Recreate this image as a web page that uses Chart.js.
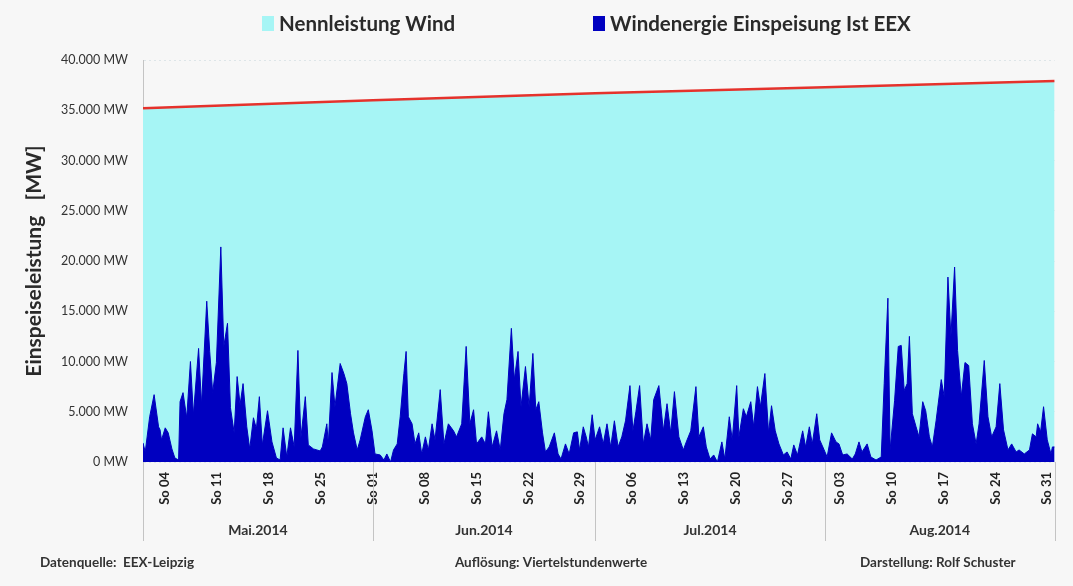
<!DOCTYPE html>
<html lang="de">
<head>
<meta charset="utf-8">
<title>Windenergie Einspeisung Mai - Aug 2014</title>
<script src="https://cdn.jsdelivr.net/npm/chart.js@4.4.1/dist/chart.umd.min.js"></script>
<style>
  html, body { margin: 0; padding: 0; background: #f7f7f7; }
  #wrap { position: relative; width: 1073px; height: 586px; }
</style>
</head>
<body>
<div id="wrap"><canvas id="wind-chart"></canvas></div>
<script>
// Days counted from 01.05.2014 00:00
const monthStarts = [0, 31, 61, 92, 123];
const monthNames = ['Mai.2014', 'Jun.2014', 'Jul.2014', 'Aug.2014'];

// Sundays (tick positions) and their labels
const sundayDays = [3, 10, 17, 24, 31, 38, 45, 52, 59, 66, 73, 80, 87, 94, 101, 108, 115, 122];
const sundayLabels = ['So 04', 'So 11', 'So 18', 'So 25', 'So 01', 'So 08', 'So 15', 'So 22', 'So 29',
    'So 06', 'So 13', 'So 20', 'So 27', 'So 03', 'So 10', 'So 17', 'So 24', 'So 31'];

// Installed wind capacity (Nennleistung) in MW
const capDays = [0, 31, 61, 92, 123];
const capMW = [35200, 36000, 36700, 37300, 37900];

// Wind feed-in (EEX)
const windDays = [
    0.0, 0.3, 0.9, 1.5, 2.1, 2.3, 2.5, 3.0, 3.4, 3.9, 4.3, 4.8, 5.0, 5.4, 5.9, 6.4, 6.8, 7.5, 7.9, 8.6,
    9.0, 9.4, 9.9, 10.5, 10.9, 11.4, 11.8, 12.3, 12.7, 13.1, 13.5, 14.0, 14.4, 14.9, 15.3, 15.7, 16.1, 16.8, 17.4, 18.0,
    18.5, 18.9, 19.4, 19.9, 20.4, 20.9, 21.3, 21.9, 22.3, 23.0, 23.9, 24.2, 24.8, 25.0, 25.5, 25.9, 26.6, 27.1, 27.5, 28.0,
    28.4, 28.9, 29.3, 30.0, 30.4, 30.9, 31.3, 32.0, 32.5, 32.9, 33.4, 33.8, 34.3, 34.7, 35.2, 35.5, 35.8, 36.3, 36.7, 37.2,
    37.6, 38.1, 38.5, 39.0, 39.4, 40.1, 40.6, 41.2, 41.9, 42.3, 43.0, 43.6, 44.1, 44.6, 45.0, 45.7, 46.2, 46.6, 47.1, 47.7,
    48.2, 48.7, 49.1, 49.7, 50.1, 50.6, 51.0, 51.6, 52.1, 52.6, 53.0, 53.4, 53.9, 54.3, 54.8, 55.5, 56.0, 56.4, 57.0, 57.5,
    58.1, 58.6, 58.9, 59.4, 59.8, 60.1, 60.6, 61.0, 61.6, 62.1, 62.6, 63.1, 63.6, 64.1, 64.6, 65.1, 65.7, 66.1, 66.5, 67.0,
    67.5, 68.0, 68.5, 68.9, 69.6, 70.2, 70.7, 71.2, 71.7, 72.3, 72.9, 73.3, 73.9, 74.6, 75.0, 75.6, 76.0, 76.5, 77.0, 77.5,
    78.1, 78.5, 79.1, 79.5, 80.1, 80.4, 81.0, 81.4, 82.0, 82.4, 82.9, 83.3, 83.9, 84.4, 84.8, 85.3, 85.8, 86.4, 86.9, 87.4,
    87.8, 88.3, 89.0, 89.4, 89.9, 90.3, 90.9, 91.3, 91.9, 92.3, 92.9, 93.5, 93.9, 94.4, 95.0, 95.7, 96.1, 96.6, 97.0, 97.7,
    98.2, 98.9, 99.6, 100.0, 100.5, 100.8, 101.4, 101.9, 102.3, 102.7, 103.1, 103.4, 103.8, 104.3, 104.7, 105.2, 105.6, 106.1, 106.5, 107.0,
    107.7, 108.1, 108.6, 109.0, 109.5, 109.9, 110.4, 110.9, 111.4, 111.9, 112.4, 112.8, 113.5, 114.0, 114.5, 115.1, 115.6, 116.1, 116.7, 117.2,
    117.8, 118.2, 118.9, 119.6, 120.0, 120.5, 120.7, 121.1, 121.5, 122.0, 122.5, 122.7, 123.0
];
const windMW = [
    1900, 1000, 4500, 6700, 3500, 3200, 2200, 3400, 2900, 1300, 400, 200, 6000, 6900, 4400, 10000, 4700, 11300, 5700, 16000,
    11000, 6900, 9900, 21400, 11500, 13800, 5400, 2900, 8500, 5700, 7800, 3500, 1300, 4400, 3300, 6500, 1700, 5100, 2000, 400,
    200, 3400, 500, 3400, 1500, 11100, 2400, 6500, 1700, 1300, 1100, 1500, 3800, 1800, 8900, 5500, 9800, 8800, 7800, 4800,
    2900, 1200, 2200, 4500, 5200, 3100, 800, 700, 200, 800, 0, 1200, 1800, 4500, 8800, 11000, 4500, 3800, 1800, 2900,
    800, 2500, 1200, 3800, 2200, 7200, 1800, 3800, 3100, 2500, 3800, 11500, 3800, 5200, 1800, 2500, 1800, 5000, 1500, 3100,
    1200, 4800, 6200, 13300, 8200, 11000, 5500, 9500, 5500, 10800, 5200, 6000, 2900, 1000, 1500, 2900, 800, 300, 1800, 800,
    2900, 3000, 1200, 3500, 2500, 1500, 4700, 2200, 3500, 1800, 3800, 1500, 4100, 1500, 2500, 4100, 7600, 3100, 5000, 7600,
    1800, 3800, 2200, 6200, 7600, 3100, 5800, 2900, 7000, 2500, 1200, 2000, 3100, 7500, 2500, 3500, 1500, 300, 700, 0,
    2000, 300, 4500, 2200, 7600, 2500, 5300, 4500, 6000, 3500, 7500, 5500, 8800, 2900, 5600, 3100, 1800, 700, 1000, 300,
    1700, 700, 3100, 1500, 3500, 1800, 4800, 2200, 1200, 500, 2900, 2000, 1800, 700, 800, 300, 800, 2000, 1000, 1800,
    500, 200, 500, 7800, 16300, 1200, 6100, 11500, 11600, 7100, 7800, 12500, 4800, 3500, 2500, 6000, 5100, 2500, 1500, 4100,
    8200, 6500, 18400, 12500, 19400, 11100, 6500, 9900, 9600, 3800, 1800, 3800, 10100, 4500, 2500, 3500, 7800, 3200, 1200, 1800,
    1000, 1200, 800, 1200, 2800, 2500, 3800, 3000, 5500, 2200, 800, 1500, 1500
];

const FONT = 'Lato, "Open Sans", sans-serif';

function formatMW(v) {
    return String(v).replace(/\B(?=(\d{3})+(?!\d))/g, '.') + ' MW';
}

// Draws legend, month labels, separators and footer
const overlayPlugin = {
    id: 'overlay',
    afterDraw(chart) {
        const { ctx, chartArea } = chart;
        const x = chart.scales.x;
        ctx.save();

        // legend (Nennleistung first)
        const legendItems = [chart.data.datasets[1], chart.data.datasets[0]];
        const legendX = [262, 593];
        ctx.font = 'bold 20.5px ' + FONT;
        ctx.textBaseline = 'middle';
        ctx.textAlign = 'left';
        legendItems.forEach((ds, i) => {
            ctx.fillStyle = ds.legendColor;
            ctx.fillRect(legendX[i], 16, 12, 15);
            ctx.fillStyle = '#2a2a2a';
            ctx.fillText(ds.label, legendX[i] + 17, 24);
        });

        // month separators and labels
        ctx.strokeStyle = '#c4c4c4';
        ctx.lineWidth = 1;
        monthStarts.forEach(d => {
            const px = Math.round(x.getPixelForValue(d)) + 0.5;
            ctx.beginPath();
            ctx.moveTo(px, chartArea.bottom);
            ctx.lineTo(px, 541);
            ctx.stroke();
        });
        ctx.font = 'bold 14px ' + FONT;
        ctx.fillStyle = '#333';
        ctx.textAlign = 'center';
        monthNames.forEach((name, i) => {
            const cx = (x.getPixelForValue(monthStarts[i]) + x.getPixelForValue(monthStarts[i + 1])) / 2;
            ctx.fillText(name, cx, 530);
        });

        // footer
        ctx.font = 'bold 13.5px ' + FONT;
        ctx.fillStyle = '#333';
        ctx.textAlign = 'left';
        ctx.fillText('Datenquelle:  EEX-Leipzig', 40, 563);
        ctx.textAlign = 'center';
        ctx.fillText('Auflösung: Viertelstundenwerte', 551, 563);
        ctx.textAlign = 'left';
        ctx.fillText('Darstellung: Rolf Schuster', 860, 563);

        ctx.restore();
    }
};

const ctx = document.getElementById('wind-chart').getContext('2d');
const windChart = new Chart(ctx, {
    type: 'line',
    data: {
        datasets: [{
            label: 'Windenergie Einspeisung Ist EEX',
            data: windDays.map((d, i) => ({ x: d, y: windMW[i] })),
            borderColor: '#0000c0',
            backgroundColor: '#0000c0',
            legendColor: '#0000c0',
            borderWidth: 1,
            pointRadius: 0,
            tension: 0,
            fill: 'origin'
        }, {
            label: 'Nennleistung Wind',
            data: capDays.map((d, i) => ({ x: d, y: capMW[i] })),
            borderColor: '#e5322c',
            backgroundColor: '#a6f5f5',
            legendColor: '#a6f5f5',
            borderWidth: 2.5,
            pointRadius: 0,
            tension: 0,
            fill: 'origin'
        }]
    },
    options: {
        responsive: true,
        maintainAspectRatio: false,
        animation: false,
        layout: {
            padding: { top: 60, right: 18, bottom: 0, left: 18 }
        },
        plugins: {
            legend: { display: false },
            tooltip: { enabled: false }
        },
        scales: {
            x: {
                type: 'linear',
                min: 0,
                max: 123,
                afterBuildTicks: scale => {
                    scale.ticks = sundayDays.map(v => ({ value: v }));
                },
                afterFit: scale => {
                    scale.height = 124;
                },
                grid: { display: false, drawTicks: false },
                border: { display: false },
                ticks: {
                    autoSkip: false,
                    minRotation: 90,
                    maxRotation: 90,
                    padding: 10,
                    color: '#222',
                    font: { family: FONT, size: 13, weight: 'bold' },
                    callback: value => sundayLabels[sundayDays.indexOf(value)]
                }
            },
            y: {
                min: 0,
                max: 40000,
                z: 1,
                afterFit: scale => {
                    scale.width = 125;
                },
                grid: {
                    color: 'rgba(0, 80, 110, 0.10)',
                    drawTicks: false
                },
                border: { display: true, color: '#c4c4c4', dash: [2, 3] },
                ticks: {
                    stepSize: 5000,
                    padding: 15,
                    color: '#333',
                    font: { family: FONT, size: 12.5 },
                    callback: value => formatMW(value)
                },
                title: {
                    display: true,
                    text: 'Einspeiseleistung   [MW]',
                    color: '#2a2a2a',
                    font: { family: FONT, size: 21, weight: 'bold' }
                }
            }
        }
    },
    plugins: [overlayPlugin]
});
</script>
</body>
</html>
